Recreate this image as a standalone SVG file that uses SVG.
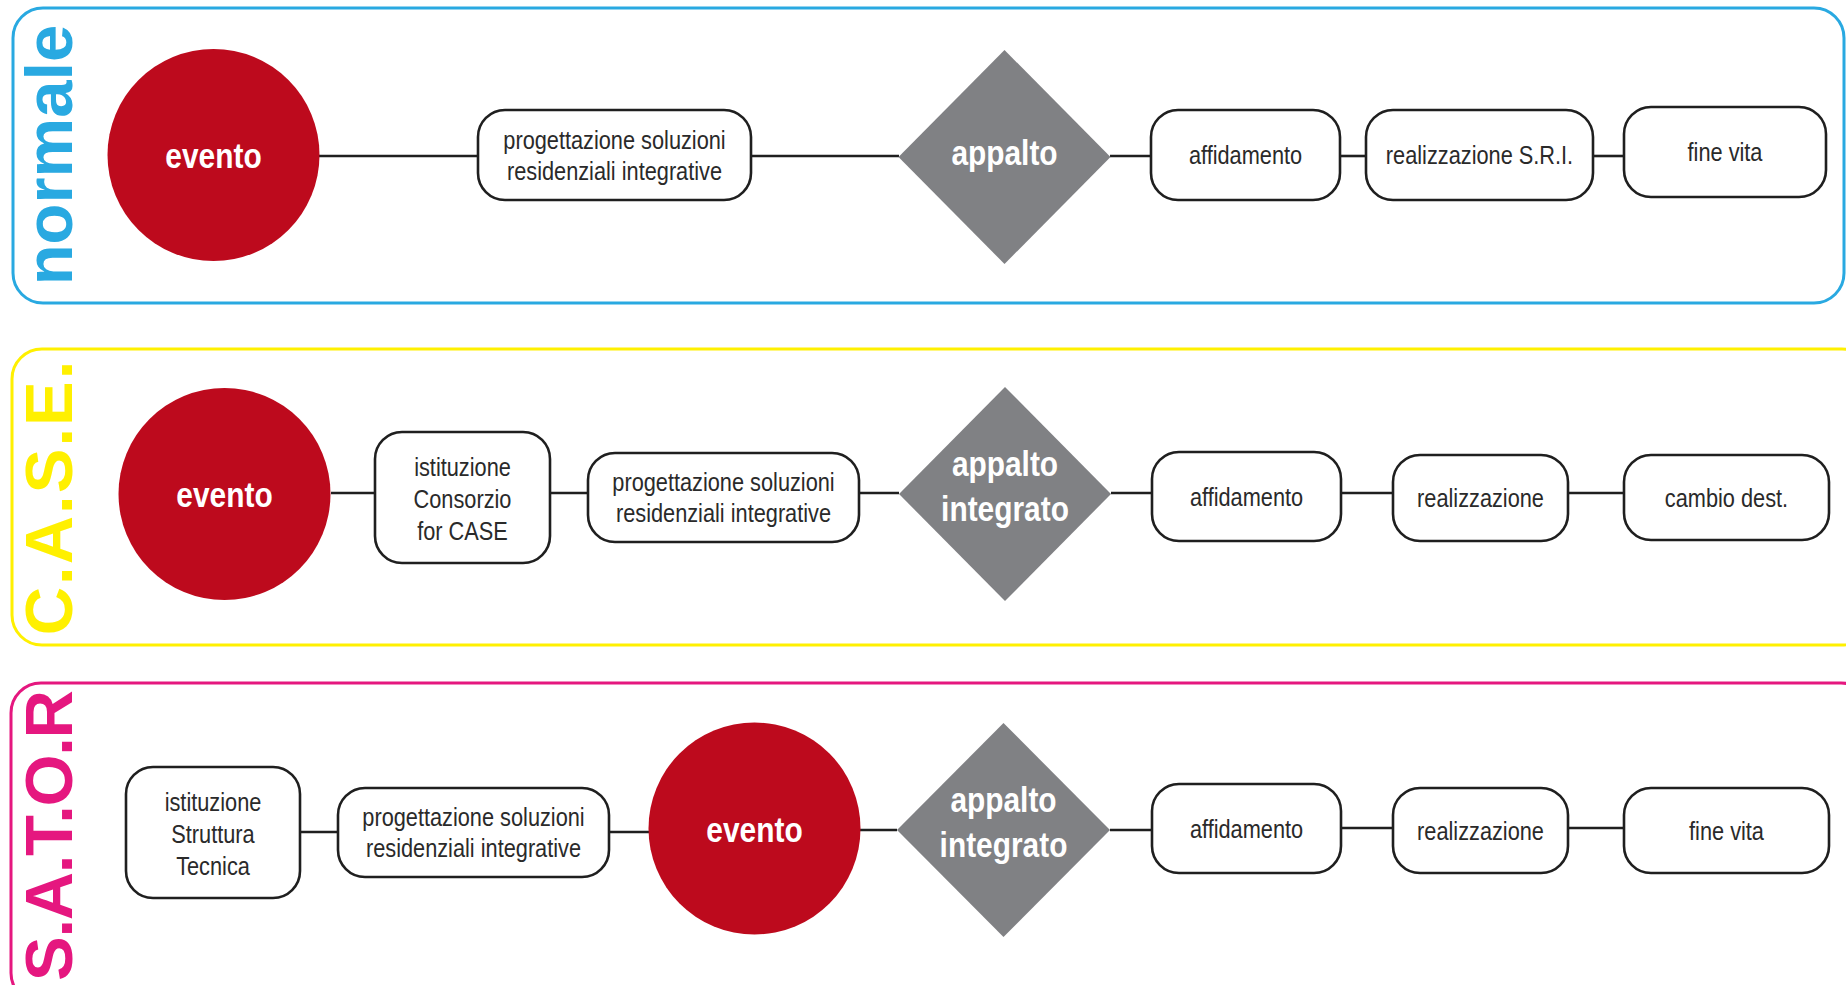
<svg xmlns="http://www.w3.org/2000/svg" width="1846" height="985" viewBox="0 0 1846 985">
  <defs>
    <style>
      .lane { fill: #ffffff; stroke-width: 3; }
      .lane-n { stroke: #29a9e1; }
      .lane-c { stroke: #fff000; }
      .lane-s { stroke: #e5177f; }
      .lane-label { font-family: "Liberation Sans", Arial, sans-serif; font-weight: bold; font-size: 67px; text-anchor: middle; }
      .ev { fill: #bd0a1d; }
      .dec { fill: #808184; }
      .box { fill: #ffffff; stroke: #1f1f1f; stroke-width: 2.6; }
      .t { font-family: "Liberation Sans", Arial, sans-serif; font-size: 25px; fill: #2a2a2a; text-anchor: middle; }
      .w { font-family: "Liberation Sans", Arial, sans-serif; font-weight: bold; font-size: 36px; fill: #ffffff; text-anchor: middle; }
      .conn line { stroke: #1f1f1f; stroke-width: 2.6; }
    </style>
  </defs>

  <rect width="1846" height="985" fill="#ffffff"/>

  <!-- swimlanes -->
  <g id="lane-normale">
    <rect class="lane lane-n" x="13" y="8" width="1831" height="295" rx="30"/>
    <text class="lane-label" fill="#29a9e1" transform="translate(72 155) rotate(-90)">normale</text>
  </g>
  <g id="lane-case">
    <rect class="lane lane-c" x="12" y="349" width="1860" height="296" rx="30"/>
    <text class="lane-label" fill="#fff000" letter-spacing="2" transform="translate(72 497) rotate(-90)">C.A.S.E.</text>
  </g>
  <g id="lane-sator">
    <rect class="lane lane-s" x="11" y="683" width="1860" height="320" rx="30"/>
    <text class="lane-label" fill="#e5177f" style="text-anchor:end" font-size="65" textLength="291" lengthAdjust="spacing" transform="translate(72 690) rotate(-90)">S.A.T.O.R</text>
  </g>

  <!-- connectors -->
  <g id="connectors" class="conn">
    <line x1="319" y1="156" x2="478" y2="156"/>
    <line x1="751" y1="156" x2="899" y2="156"/>
    <line x1="1110" y1="156" x2="1151" y2="156"/>
    <line x1="1340" y1="156" x2="1366" y2="156"/>
    <line x1="1593" y1="156" x2="1624" y2="156"/>

    <line x1="331" y1="493" x2="375" y2="493"/>
    <line x1="550" y1="493" x2="588" y2="493"/>
    <line x1="859" y1="493" x2="899" y2="493"/>
    <line x1="1111" y1="493" x2="1152" y2="493"/>
    <line x1="1341" y1="493" x2="1393" y2="493"/>
    <line x1="1568" y1="493" x2="1624" y2="493"/>

    <line x1="300" y1="832" x2="338" y2="832"/>
    <line x1="609" y1="832" x2="649" y2="832"/>
    <line x1="860" y1="830" x2="897" y2="830"/>
    <line x1="1110" y1="830" x2="1152" y2="830"/>
    <line x1="1341" y1="828" x2="1393" y2="828"/>
    <line x1="1568" y1="828" x2="1624" y2="828"/>
  </g>

  <!-- row: normale -->
  <g id="n-evento">
    <circle class="ev" cx="213.5" cy="155" r="106"/>
    <text class="w" transform="translate(213.5 168) scale(0.83 1)">evento</text>
  </g>
  <g id="n-progettazione">
    <rect class="box" x="478" y="110" width="273" height="90" rx="27"/>
    <text class="t" transform="translate(614.5 149) scale(0.87 1)"><tspan x="0">progettazione soluzioni</tspan><tspan x="0" dy="31">residenziali integrative</tspan></text>
  </g>
  <g id="n-appalto">
    <polygon class="dec" points="1004.5,50 1110.5,157 1004.5,264 898.5,157"/>
    <text class="w" transform="translate(1004.5 165) scale(0.83 1)">appalto</text>
  </g>
  <g id="n-affidamento">
    <rect class="box" x="1151" y="110" width="189" height="90" rx="27"/>
    <text class="t" transform="translate(1245.5 164) scale(0.87 1)">affidamento</text>
  </g>
  <g id="n-realizzazione">
    <rect class="box" x="1366" y="110" width="227" height="90" rx="27"/>
    <text class="t" transform="translate(1479.5 164) scale(0.87 1)">realizzazione S.R.I.</text>
  </g>
  <g id="n-fine-vita">
    <rect class="box" x="1624" y="107" width="202" height="90" rx="27"/>
    <text class="t" transform="translate(1725 161) scale(0.87 1)">fine vita</text>
  </g>

  <!-- row: C.A.S.E. -->
  <g id="c-evento">
    <circle class="ev" cx="224.5" cy="494" r="106"/>
    <text class="w" transform="translate(224.5 507) scale(0.83 1)">evento</text>
  </g>
  <g id="c-consorzio">
    <rect class="box" x="375" y="432" width="175" height="131" rx="27"/>
    <text class="t" transform="translate(462.5 476) scale(0.87 1)"><tspan x="0">istituzione</tspan><tspan x="0" dy="32">Consorzio</tspan><tspan x="0" dy="32">for CASE</tspan></text>
  </g>
  <g id="c-progettazione">
    <rect class="box" x="588" y="453" width="271" height="89" rx="27"/>
    <text class="t" transform="translate(723.5 491) scale(0.87 1)"><tspan x="0">progettazione soluzioni</tspan><tspan x="0" dy="31">residenziali integrative</tspan></text>
  </g>
  <g id="c-appalto">
    <polygon class="dec" points="1005,387 1111,494 1005,601 899,494"/>
    <text class="w" transform="translate(1005 476) scale(0.83 1)"><tspan x="0">appalto</tspan><tspan x="0" dy="45">integrato</tspan></text>
  </g>
  <g id="c-affidamento">
    <rect class="box" x="1152" y="452" width="189" height="89" rx="27"/>
    <text class="t" transform="translate(1246.5 506) scale(0.87 1)">affidamento</text>
  </g>
  <g id="c-realizzazione">
    <rect class="box" x="1393" y="455" width="175" height="86" rx="27"/>
    <text class="t" transform="translate(1480.5 507) scale(0.87 1)">realizzazione</text>
  </g>
  <g id="c-cambio">
    <rect class="box" x="1624" y="455" width="205" height="85" rx="27"/>
    <text class="t" transform="translate(1726.5 507) scale(0.87 1)">cambio dest.</text>
  </g>

  <!-- row: S.A.T.O.R -->
  <g id="s-struttura">
    <rect class="box" x="126" y="767" width="174" height="131" rx="27"/>
    <text class="t" transform="translate(213 811) scale(0.87 1)"><tspan x="0">istituzione</tspan><tspan x="0" dy="32">Struttura</tspan><tspan x="0" dy="32">Tecnica</tspan></text>
  </g>
  <g id="s-progettazione">
    <rect class="box" x="338" y="788" width="271" height="89" rx="27"/>
    <text class="t" transform="translate(473.5 826) scale(0.87 1)"><tspan x="0">progettazione soluzioni</tspan><tspan x="0" dy="31">residenziali integrative</tspan></text>
  </g>
  <g id="s-evento">
    <circle class="ev" cx="754.5" cy="828.5" r="106"/>
    <text class="w" transform="translate(754.5 841.5) scale(0.83 1)">evento</text>
  </g>
  <g id="s-appalto">
    <polygon class="dec" points="1003.5,723 1110,830 1003.5,937 897,830"/>
    <text class="w" transform="translate(1003.5 812) scale(0.83 1)"><tspan x="0">appalto</tspan><tspan x="0" dy="45">integrato</tspan></text>
  </g>
  <g id="s-affidamento">
    <rect class="box" x="1152" y="784" width="189" height="89" rx="27"/>
    <text class="t" transform="translate(1246.5 838) scale(0.87 1)">affidamento</text>
  </g>
  <g id="s-realizzazione">
    <rect class="box" x="1393" y="788" width="175" height="85" rx="27"/>
    <text class="t" transform="translate(1480.5 840) scale(0.87 1)">realizzazione</text>
  </g>
  <g id="s-fine-vita">
    <rect class="box" x="1624" y="788" width="205" height="85" rx="27"/>
    <text class="t" transform="translate(1726.5 840) scale(0.87 1)">fine vita</text>
  </g>
</svg>
